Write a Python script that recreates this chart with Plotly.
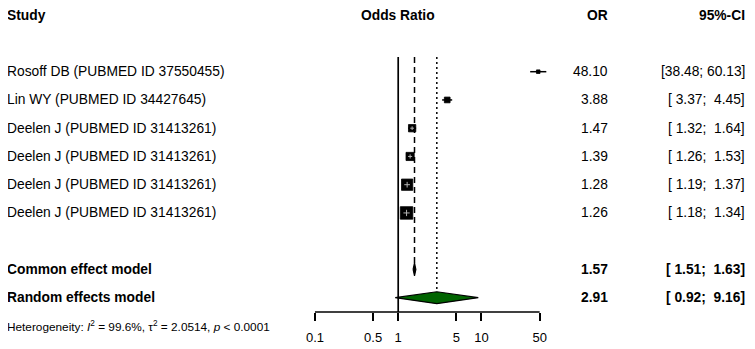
import numpy as np
import plotly.graph_objects as go

# ---------------- data ----------------
studies = [
    "Rosoff DB (PUBMED ID 37550455)",
    "Lin WY (PUBMED ID 34427645)",
    "Deelen J (PUBMED ID 31413261)",
    "Deelen J (PUBMED ID 31413261)",
    "Deelen J (PUBMED ID 31413261)",
    "Deelen J (PUBMED ID 31413261)",
]
odds_ratio = [48.10, 3.88, 1.47, 1.39, 1.28, 1.26]
ci_lower = [38.48, 3.37, 1.32, 1.26, 1.19, 1.18]
ci_upper = [60.13, 4.45, 1.64, 1.53, 1.37, 1.34]

model_labels = ["Common effect model", "Random effects model"]
model_or = [1.57, 2.91]
model_lower = [1.51, 0.92]
model_upper = [1.63, 9.16]

heterogeneity = "Heterogeneity: <i>I</i><sup>2</sup> = 99.6%, τ<sup>2</sup> = 2.0514, <i>p</i> &lt; 0.0001"
tick_values = [0.1, 0.5, 1, 5, 10, 50]
tick_labels = ["0.1", "0.5", "1", "5", "10", "50"]
headers = ["Study", "Odds Ratio", "OR", "95%-CI"]

# ---------------- layout geometry (page pixels; body has 8px margin) ----------------
PAGE_W, PAGE_H = 755, 349
OFF = 8
W, H = PAGE_W - OFF, PAGE_H - OFF
PX_PER_DEC = 83.25
X_ONE_PX = 398.2 - OFF
ROW0_PX = 15.2 - OFF
ROW_PX = 28.25
AXIS_PX = 312 - OFF

study_rows = [2, 3, 4, 5, 6, 7]
model_rows = [9, 10]
het_row = 11.02
axis_row = (AXIS_PX - ROW0_PX) / ROW_PX
top_row = (57 - OFF - ROW0_PX) / ROW_PX
diamond_half = [0.23, 0.21]

FONT = "Liberation Sans, Arial, sans-serif"
FS = 13.8

# marker sizes from inverse-variance weights
se = (np.log(ci_upper) - np.log(ci_lower)) / (2 * 1.96)
w = 1 / se**2
sizes = 12.5 * np.sqrt(w / w.max())

fig = go.Figure()

# reference / effect lines
fig.add_trace(go.Scatter(x=[1, 1], y=[top_row, axis_row], mode="lines",
                         line=dict(color="black", width=1.7), hoverinfo="skip"))
fig.add_trace(go.Scatter(x=[model_or[0]] * 2, y=[top_row, model_rows[0] - diamond_half[0]],
                         mode="lines", line=dict(color="black", width=1.5, dash="6px,4px"),
                         hoverinfo="skip"))
fig.add_trace(go.Scatter(x=[model_or[1]] * 2, y=[top_row, model_rows[1] - diamond_half[1]],
                         mode="lines", line=dict(color="black", width=1.5, dash="2px,3px"),
                         hoverinfo="skip"))

# CI lines
cx, cy = [], []
for l, u, r in zip(ci_lower, ci_upper, study_rows):
    cx += [l, u, None]
    cy += [r, r, None]
fig.add_trace(go.Scatter(x=cx, y=cy, mode="lines", line=dict(color="black", width=1.5),
                         hoverinfo="skip"))

# squares
fig.add_trace(go.Scatter(x=odds_ratio, y=study_rows, mode="markers",
                         marker=dict(symbol="square", size=list(sizes), color="black",
                                     opacity=1, line=dict(color="black", width=0.8)),
                         hoverinfo="skip"))
# white inner CI cross for larger squares
big = [i for i, s in enumerate(sizes) if s >= 6.5]
fig.add_trace(go.Scatter(x=[odds_ratio[i] for i in big], y=[study_rows[i] for i in big],
                         mode="markers",
                         marker=dict(symbol="cross-thin", size=[sizes[i] * 0.36 for i in big],
                                     line=dict(color="white", width=1)),
                         hoverinfo="skip"))

# diamonds
fills = ["black", "#006400"]
for k in range(2):
    r, h = model_rows[k], diamond_half[k]
    fig.add_trace(go.Scatter(
        x=[model_lower[k], model_or[k], model_upper[k], model_or[k], model_lower[k]],
        y=[r, r - h, r, r + h, r],
        mode="lines", fill="toself", fillcolor=fills[k],
        line=dict(color="black", width=1.2), hoverinfo="skip"))

# axis line
fig.add_trace(go.Scatter(x=[tick_values[0], tick_values[-1]], y=[axis_row, axis_row],
                         mode="lines", line=dict(color="black", width=1.5), hoverinfo="skip"))

# ---------------- text ----------------
ann = []
def add(text, x, y, xanchor, bold=False, size=FS, xref="paper"):
    ann.append(dict(text=f"<b>{text}</b>" if bold else text, x=x, y=y, xref=xref, yref="y",
                    xanchor=xanchor, yanchor="middle", showarrow=False,
                    font=dict(family=FONT, size=size, color="black")))

OR_RIGHT = (610 - OFF) / W
CI_RIGHT = (747 - OFF) / W
LEFT = (4 - OFF + 1) / W

add(headers[0], LEFT, 0, "left", bold=True)
add(headers[1], np.log10(1), 0, "center", bold=True, xref="x")
add(headers[2], OR_RIGHT, 0, "right", bold=True)
add(headers[3], CI_RIGHT, 0, "right", bold=True)

def fmt_ci(l, u):
    return ("[" + f"{l:5.2f}" + "; " + f"{u:5.2f}" + "]").replace(" ", "\u00a0")

for name, o, l, u, r in zip(studies, odds_ratio, ci_lower, ci_upper, study_rows):
    add(name, LEFT, r, "left")
    add(f"{o:.2f}", OR_RIGHT, r, "right")
    add(fmt_ci(l, u), CI_RIGHT, r, "right")

for name, o, l, u, r in zip(model_labels, model_or, model_lower, model_upper, model_rows):
    add(name, LEFT, r, "left", bold=True)
    add(f"{o:.2f}", OR_RIGHT, r, "right", bold=True)
    add(fmt_ci(l, u), CI_RIGHT, r, "right", bold=True)

add(heterogeneity, LEFT, het_row, "left", size=11.8)

fig.update_layout(
    width=W, height=H, margin=dict(l=0, r=0, t=0, b=0),
    paper_bgcolor="white", plot_bgcolor="white", showlegend=False,
    annotations=ann,
    xaxis=dict(type="log", domain=[0, 1],
               range=[(0 - X_ONE_PX) / PX_PER_DEC, (W - X_ONE_PX) / PX_PER_DEC],
               tickmode="array", tickvals=tick_values, ticktext=tick_labels,
               ticks="outside", ticklen=8, tickwidth=1.5, tickcolor="black",
               showline=False, showgrid=False, zeroline=False,
               anchor="free", position=1 - AXIS_PX / H,
               tickfont=dict(family=FONT, size=13, color="black"),
               ticklabelstandoff=5),
    yaxis=dict(range=[(H - ROW0_PX) / ROW_PX, (0 - ROW0_PX) / ROW_PX], domain=[0, 1],
               visible=False, showgrid=False, zeroline=False),
)

fig.write_html("out.html")
